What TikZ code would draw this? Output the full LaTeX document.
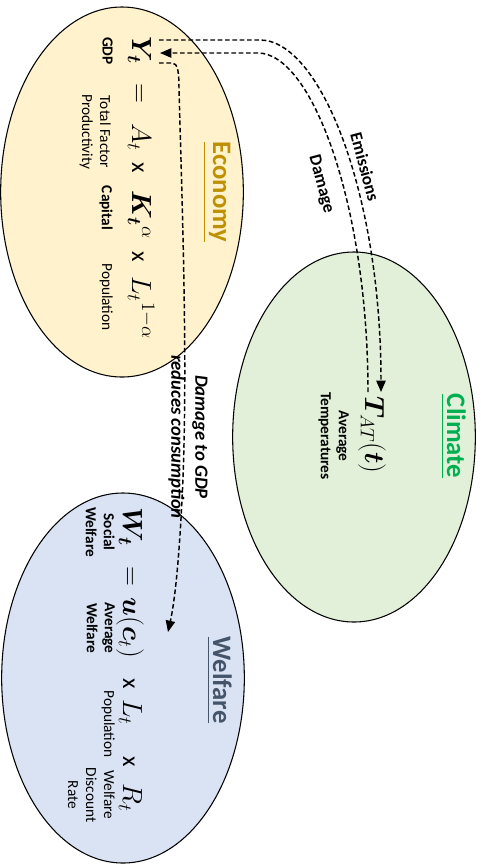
\documentclass[tikz,border=0pt]{standalone}
\usepackage{amsmath,bm}
\usepackage{fontspec}
\setmainfont{Carlito}
\usetikzlibrary{arrows.meta,shapes.geometric}
\definecolor{econfill}{HTML}{FFF2CC}
\definecolor{climfill}{HTML}{E2F0D9}
\definecolor{welffill}{HTML}{DAE3F3}
\definecolor{econtitle}{HTML}{BF9000}
\definecolor{climtitle}{HTML}{00B050}
\definecolor{welftitle}{HTML}{44546A}
\begin{document}
\begin{tikzpicture}[x=0.75pt,y=-0.75pt,
  ell/.style={ellipse, draw=black, line width=0.8pt, minimum width=182pt, minimum height=277.5pt, inner sep=0pt},
  rot/.style={rotate=-90, inner sep=0pt},
  titletext/.style={rot, anchor=base, font=\fontsize{20}{24}\selectfont\bfseries},
  mth/.style={rot, anchor=base, font=\fontsize{21}{25}\selectfont},
  opx/.style={rot, anchor=base, font=\fontsize{18}{22}\selectfont},
  lbl/.style={rot, anchor=north, align=center, font=\fontsize{11.5}{13.5}\selectfont},
  lblb/.style={rot, anchor=north, align=center, font=\fontsize{11.5}{13.5}\selectfont\bfseries},
  flowlbl/.style={rotate=-75, inner sep=0pt, font=\fontsize{13}{16}\selectfont\bfseries},
  flow/.style={line width=1.1pt, dash pattern=on 3.5pt off 2pt},
  tip/.style={-{Triangle[length=8.5pt,width=7pt]}}
]
\useasboundingbox (0,0) rectangle (481,865);

% ellipses
\node[ell, fill=econfill] (econ) at (122,192) {};
\node[ell, fill=climfill] (clim) at (354,437) {};
\node[ell, fill=welffill] (welf) at (123,678) {};

% titles
\node[titletext, text=econtitle] (econT) at (213,192) {\underline{Economy}};
\node[titletext, text=climtitle] (climT) at (447,436) {\underline{Climate}};
\node[titletext, text=welftitle] (welfT) at (213,680) {\underline{Welfare}};

% economy formula
\node[mth] (Y) at (132,50) {$\bm{Y_t}$};
\node[mth] (eq1) at (132,93) {$=$};
\node[mth] (A) at (132,137) {$A_t$};
\node[opx] (x1) at (132,168) {x};
\node[mth] (K) at (132,215) {$\bm{K_t}{}^{\alpha}$};
\node[opx] (x2) at (132,257) {x};
\node[mth] (L) at (132,308) {$L_t{}^{1-\alpha}$};

\node[lblb] (gdp) at (113,51) {GDP};
\node[lbl] (tfp) at (111,132) {Total Factor\\Productivity};
\node[lblb] (cap) at (113,208) {Capital};
\node[lbl] (pop1) at (113,297) {Population};

% climate
\node[mth] (T) at (365,435) {$\bm{T}_{AT}(\bm{t})$};
\node[lblb] (avgT) at (349,436) {Average\\Temperatures};

% welfare formula
\node[mth] (W) at (123,527) {$\bm{W_t}$};
\node[mth] (eq2) at (123,576) {$=$};
\node[mth] (U) at (123,628) {$\bm{u}(\bm{c}_t)$};
\node[opx] (x3) at (123,684) {x};
\node[mth] (L2) at (123,712) {$L_t$};
\node[opx] (x4) at (123,762) {x};
\node[mth] (R) at (123,798) {$R_t$};

\node[lblb] (sw) at (115,532) {Social\\Welfare};
\node[lblb] (aw) at (115,628) {Average\\Welfare};
\node[lbl] (pop2) at (115,724) {Population};
\node[lbl] (wdr) at (115,795) {Welfare\\Discount\\Rate};

% connector end points
\coordinate (emS) at (159,40);
\coordinate (emE) at (381,392);
\coordinate (dmS) at (368,392);
\coordinate (dmE) at (160,53);
\coordinate (cnS) at (159,63);
\coordinate (cnE) at (168,632);

% connectors
\draw[flow, tip] (emS) -- (260,40) .. controls (320,40) and (381,192) .. (emE);
\draw[flow, tip] (dmS) .. controls (368,205) and (312,53) .. (258,53) -- (dmE);
\draw[flow, tip] (cnS) -- (172,63) .. controls (178,63) and (179,72) .. (179,90)
  .. controls (183,230) and (188,380) .. (182,500)
  .. controls (179,560) and (175,600) .. (cnE);

% connector labels
\node[flowlbl] (emL) at (365,167) {Emissions};
\node[flowlbl] (dmL) at (321,184) {Damage};
\node[rot, anchor=north, align=center, font=\fontsize{14}{18}\selectfont\bfseries\itshape] (cnL) at (208,437) {Damage to GDP\\reduces consumption};
\end{tikzpicture}
\end{document}
